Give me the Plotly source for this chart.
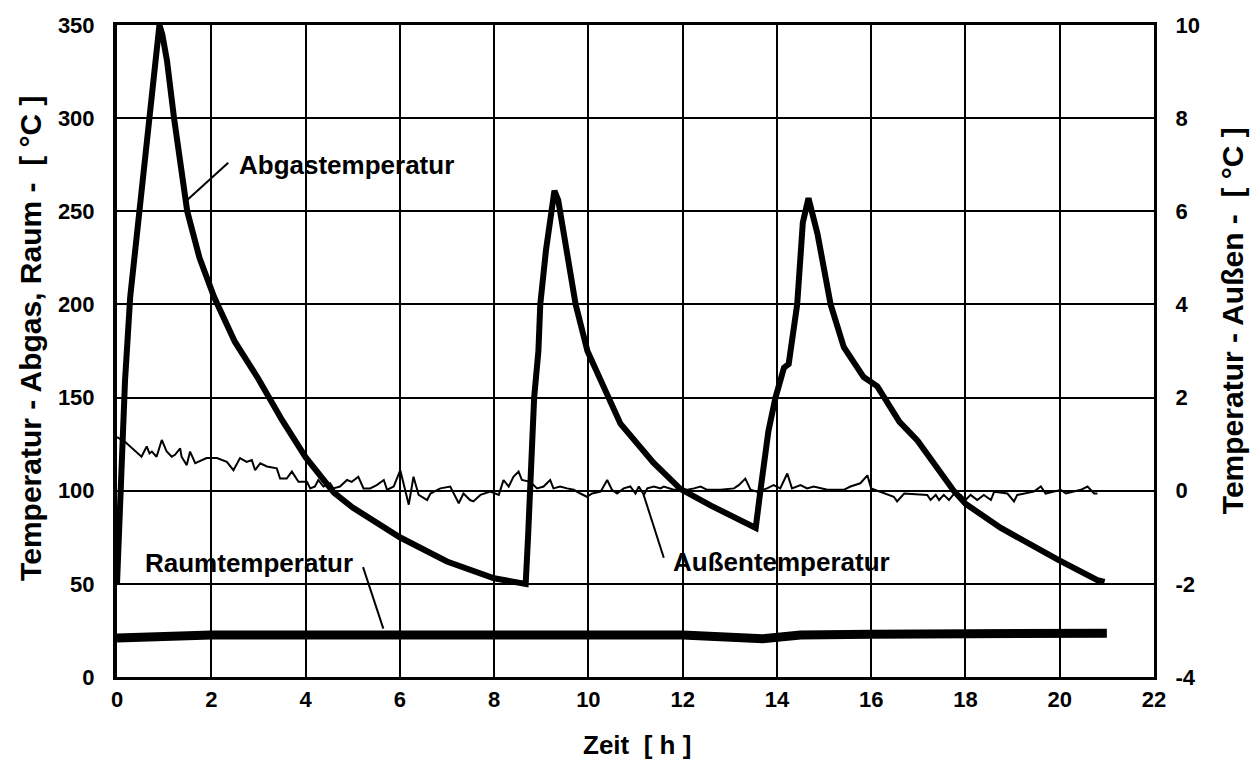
import plotly.graph_objects as go

# --- Data ---
abgas_h = [0, 0.1, 0.17, 0.28, 0.47, 0.68, 0.79, 0.86, 0.9, 0.96, 1.06, 1.21, 1.35, 1.49, 1.75, 2.06,
           2.5, 3.0, 3.5, 4.0, 4.6, 5.0, 6.0, 7.0, 8.0, 8.67, 8.72, 8.77, 8.85, 8.94, 8.98, 9.1,
           9.23, 9.28, 9.36, 9.55, 9.73, 9.98, 10.3, 10.68, 11.38, 11.95, 12.6, 13.55, 13.65, 13.82,
           13.97, 14.15, 14.25, 14.43, 14.55, 14.67, 14.86, 15.14, 15.42, 15.84, 16.13, 16.6, 16.98,
           17.75, 18.0, 18.75, 19.96, 20.8, 20.95]
abgas_t = [50, 115, 159, 204, 250, 300, 331, 345, 350, 345, 331, 300, 272, 250, 225, 204,
           180, 160, 138, 118, 99, 91, 75, 62, 53, 50, 75, 100, 150, 175, 200, 229,
           252, 261, 256, 229, 200, 175, 158, 136, 115, 101, 92, 80, 100, 132,
           150, 166, 168, 200, 244, 257, 238, 200, 177, 161, 156, 137, 127,
           100, 93, 80, 63, 52, 51]

raum_h = [0, 2, 4, 6, 8, 8.7, 10, 12, 13.7, 14.5, 16, 18, 20, 20.25, 21]
raum_t = [21, 22.5, 22.5, 22.5, 22.5, 23, 23, 22.5, 20.5, 22.5, 23, 23, 23, 23.5, 23.5]

aussen_h = [0, 0.17, 0.52, 0.63, 0.69, 0.74, 0.84, 0.95, 1.05, 1.16, 1.23, 1.34, 1.37, 1.48, 1.55, 1.66,
            1.90, 2.12, 2.33, 2.47, 2.61, 2.75, 2.86, 2.93, 3.04, 3.18, 3.39, 3.46, 3.60, 3.71,
            3.85, 4.03, 4.10, 4.20, 4.27, 4.38, 4.52, 4.59, 4.73, 4.88, 4.98, 5.12, 5.23, 5.37,
            5.51, 5.66, 5.73, 5.87, 6.01, 6.12, 6.19, 6.29, 6.40, 6.58, 6.65, 6.86, 7.07, 7.25,
            7.35, 7.49, 7.56, 7.71, 7.92, 8.10, 8.20, 8.31, 8.41, 8.52, 8.59, 8.77, 8.91, 9.05,
            9.19, 9.26, 9.40, 9.55, 9.69, 9.83, 9.97, 10.08, 10.26, 10.40, 10.50, 10.61, 10.75,
            10.89, 11.0, 11.07, 11.18, 11.25, 11.39, 11.53, 11.60, 11.81, 11.95, 12.1, 12.24,
            12.38, 12.52, 12.80, 13.09, 13.19, 13.33, 13.44, 13.58, 13.79, 13.93, 14.07, 14.22,
            14.32, 14.50, 14.64, 14.78, 14.92, 15.07, 15.42, 15.56, 15.77, 15.92, 16.0, 16.27,
            16.48, 16.55, 16.70, 17.19, 17.26, 17.37, 17.44, 17.54, 17.65, 17.76, 17.90, 18.0,
            18.11, 18.25, 18.39, 18.54, 18.61, 18.89, 19.03, 19.10, 19.45, 19.60, 19.70, 19.88,
            20.02, 20.13, 20.30, 20.45, 20.59, 20.73, 20.80]
aussen_t = [1.15, 1.05, 0.73, 0.95, 0.80, 0.84, 0.73, 1.09, 0.85, 0.73, 0.77, 0.91, 0.73, 0.55, 0.84, 0.59,
            0.70, 0.70, 0.62, 0.44, 0.70, 0.62, 0.66, 0.44, 0.59, 0.52, 0.48, 0.26, 0.26, 0.41,
            0.19, 0.19, 0.05, 0.09, 0.23, 0.09, 0.16, 0.05, 0.09, 0.23, 0.19, 0.30, 0.05, 0.05,
            0.12, 0.23, 0.02, 0.09, 0.44, 0.02, -0.30, 0.30, -0.09, -0.20, -0.06, 0.05, 0.09, -0.27,
            -0.06, -0.20, -0.23, -0.09, -0.02, -0.09, 0.23, 0.09, 0.30, 0.41, 0.23, 0.19, 0.05, 0.09,
            0.23, 0.05, 0.09, 0.05, 0.02, -0.06, -0.13, -0.06, -0.02, 0.23, 0.02, -0.06, 0.05,
            0.09, -0.06, 0.09, -0.09, 0.05, 0.09, 0.05, 0.09, 0.02, 0.02, 0.02, 0.05,
            0.09, 0.02, 0.02, 0.05, 0.12, 0.26, 0.02, -0.02, 0.05, 0.12, 0.05, 0.37,
            0.05, 0.12, 0.05, 0.09, 0.05, 0.02, 0.02, 0.09, 0.16, 0.33, 0.05, -0.06,
            -0.13, -0.23, -0.06, -0.09, -0.20, -0.09, -0.20, -0.09, -0.20, -0.06, -0.09, -0.20,
            -0.09, -0.20, -0.09, -0.20, -0.02, -0.06, -0.23, -0.09, -0.02, 0.09, -0.06, -0.02,
            0.02, -0.06, -0.02, 0.02, 0.09, -0.06, -0.06]

x_ticks = list(range(0, 23, 2))
y_left_ticks = list(range(0, 351, 50))
y_right_ticks = list(range(-4, 11, 2))
y_right_labels = [str(v) for v in y_right_ticks]  # plain hyphen minus as in the original

FONT = "Liberation Sans, Arial, sans-serif"

fig = go.Figure()
fig.add_trace(go.Scatter(x=raum_h, y=raum_t, mode="lines", line=dict(color="black", width=9),
                         name="Raumtemperatur", yaxis="y"))
fig.add_trace(go.Scatter(x=abgas_h, y=abgas_t, mode="lines", line=dict(color="black", width=6),
                         name="Abgastemperatur", yaxis="y"))
fig.add_trace(go.Scatter(x=aussen_h, y=aussen_t, mode="lines", line=dict(color="black", width=2),
                         name="Außentemperatur", yaxis="y2"))

tickfont = dict(family=FONT, size=22, color="black", weight="bold")

fig.update_layout(
    width=1251, height=766,
    margin=dict(l=117, r=97, t=25, b=89),
    paper_bgcolor="white", plot_bgcolor="white",
    showlegend=False,
    xaxis=dict(range=[0, 22], tickvals=x_ticks, showgrid=True, gridcolor="black", gridwidth=2,
               zeroline=False, showline=True, linecolor="black", linewidth=3, mirror=True,
               ticks="", tickfont=tickfont, ticklabelstandoff=1),
    yaxis=dict(range=[0, 350], tickvals=y_left_ticks, showgrid=True, gridcolor="black", gridwidth=2,
               zeroline=False, showline=True, linecolor="black", linewidth=4,
               ticks="", tickfont=tickfont, ticklabelstandoff=14),
    yaxis2=dict(range=[-4, 10], tickvals=y_right_ticks, ticktext=y_right_labels,
                overlaying="y", side="right",
                showgrid=False, zeroline=False, showline=True, linecolor="black", linewidth=3,
                ticks="", tickfont=tickfont, ticklabelstandoff=14),
)

ann_font = dict(family=FONT, size=26, color="black", weight="bold")
title_font = dict(family=FONT, size=30, color="black", weight="bold")

# series labels with leader lines
labels = [
    ("Abgastemperatur", 2.55, 275, (1.49, 256), (2.36, 276)),
    ("Raumtemperatur", 0.55, 61, (5.22, 59), (5.65, 26)),
    ("Außentemperatur", 11.75, 62, (11.6, 64), (11.17, 98)),
]
for text, tx, ty, p0, p1 in labels:
    fig.add_annotation(x=tx, y=ty, xref="x", yref="y", text=text, showarrow=False,
                       xanchor="left", yanchor="middle", font=ann_font)
    fig.add_shape(type="line", xref="x", yref="y", x0=p0[0], y0=p0[1], x1=p1[0], y1=p1[1],
                  line=dict(color="black", width=2))

# axis titles
fig.add_annotation(xref="paper", yref="paper", x=0.501, y=-0.104, text="Zeit  [ h ]",
                   showarrow=False, xanchor="center", yanchor="middle",
                   font=dict(family=FONT, size=26, color="black", weight="bold"))
fig.add_annotation(xref="paper", yref="paper", x=-0.083, y=0.52,
                   text="Temperatur - Abgas, Raum -  [ °C ]", textangle=-90,
                   showarrow=False, xanchor="center", yanchor="middle", font=title_font)
fig.add_annotation(xref="paper", yref="paper", x=1.076, y=0.547,
                   text="Temperatur - Außen -  [ °C ]", textangle=-90,
                   showarrow=False, xanchor="center", yanchor="middle", font=title_font)

fig.write_html("out.html")
